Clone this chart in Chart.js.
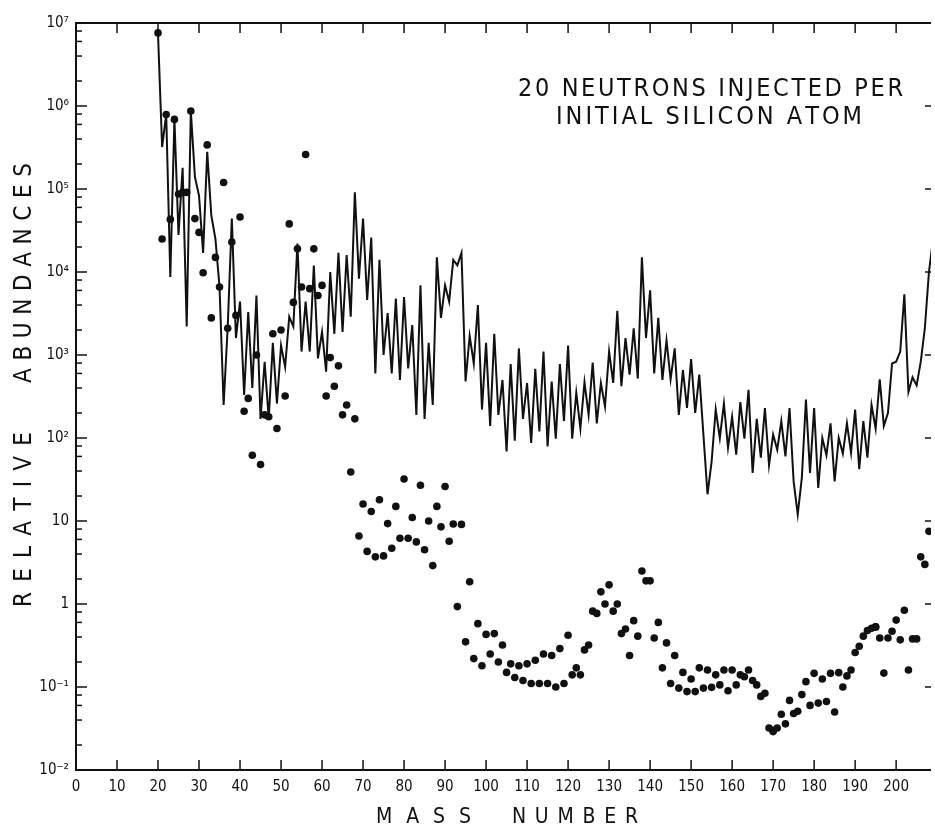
<!DOCTYPE html>
<html>
<head>
<meta charset="utf-8">
<script src="https://cdn.jsdelivr.net/npm/chart.js@4.4.0/dist/chart.umd.min.js"></script>
<style>
  html, body { margin: 0; padding: 0; background: #fff; }
  #wrap { width: 935px; height: 831px; position: relative; }
</style>
</head>
<body>
<div id="wrap"><canvas id="chart"></canvas></div>
<script>
'use strict';

// Solid curve: one value per mass number, starting at A = 20
const lineFirstMass = 20;
const lineAbund = [
  7.4e6, 3.2e5, 7.9e5, 8.7e3, 6.9e5, 2.8e4, 1.8e5, 2.2e3, 8.7e5, 1.4e5,   // 20-29
  8.3e4, 1.7e4, 2.8e5, 4.8e4, 2.5e4, 6.6e3, 2.5e2, 2.2e3, 4.4e4, 1.6e3,   // 30-39
  4.4e3, 3.3e2, 3.3e3, 4.0e2, 5.2e3, 1.7e2, 8.3e2, 1.7e2, 1.4e3, 2.6e2,   // 40-49
  1.3e3, 7.2e2, 2.9e3, 2.2e3, 2.2e4, 1.1e3, 4.4e3, 1.1e3, 1.2e4, 9.1e2,   // 50-59
  1.9e3, 6.3e2, 1.0e4, 1.8e3, 1.7e4, 1.9e3, 1.6e4, 2.9e3, 9.1e4, 8.3e3,   // 60-69
  4.4e4, 4.6e3, 2.6e4, 6.0e2, 1.4e4, 1.0e3, 3.2e3, 6.0e2, 4.8e3, 5.0e2,   // 70-79
  5.0e3, 6.9e2, 2.3e3, 1.9e2, 6.9e3, 1.7e2, 1.4e3, 2.5e2, 1.5e4, 2.8e3,   // 80-89
  6.9e3, 4.4e3, 1.4e4, 1.2e4, 1.7e4, 4.8e2, 1.7e3, 7.9e2, 4.0e3, 2.2e2,   // 90-99
  1.4e3, 1.4e2, 1.8e3, 1.9e2, 5.0e2, 69, 7.8e2, 93, 1.2e3, 1.7e2,         // 100-109
  4.6e2, 87, 6.8e2, 1.2e2, 1.1e3, 79, 4.8e2, 98, 7.8e2, 1.6e2,           // 110-119
  1.3e3, 98, 3.5e2, 1.3e2, 4.7e2, 1.9e2, 8.1e2, 1.5e2, 4.6e2, 2.4e2,     // 120-129
  1.1e3, 4.6e2, 3.4e3, 4.2e2, 1.6e3, 5.8e2, 2.1e3, 5.2e2, 1.5e4, 1.6e3,  // 130-139
  6.0e3, 6.0e2, 2.8e3, 5.0e2, 1.5e3, 5.1e2, 1.2e3, 1.9e2, 6.6e2, 2.3e2,  // 140-149
  8.9e2, 2.0e2, 5.8e2, 1.1e2, 21, 52, 2.2e2, 1.0e2, 2.6e2, 76,           // 150-159
  1.8e2, 63, 2.7e2, 98, 3.8e2, 38, 1.7e2, 58, 2.3e2, 47,                 // 160-169
  1.1e2, 72, 1.6e2, 60, 2.3e2, 30, 12, 33, 2.9e2, 38,                    // 170-179
  2.3e2, 25, 1.0e2, 62, 1.5e2, 30, 1.0e2, 65, 1.5e2, 66,                 // 180-189
  2.2e2, 42, 1.6e2, 58, 2.5e2, 1.3e2, 5.1e2, 1.4e2, 2.0e2, 7.9e2,        // 190-199
  8.3e2, 1.1e3, 5.4e3, 3.6e2, 5.4e2, 4.3e2, 8.3e2, 2.1e3, 1.0e4, 2.5e4   // 200-209
];

// Filled dots: mass number and abundance
const dotMass = [
  20, 21, 22, 23, 24, 25, 26, 27, 28, 29, 30, 31, 32, 33, 34, 35, 36, 37, 38, 39,
  40, 41, 42, 43, 44, 45, 46, 47, 48, 49, 50, 51, 52, 53, 54, 55, 56, 57, 58, 59,
  60, 61, 62, 63, 64, 65, 66, 67, 68, 69, 70, 71, 72, 73, 74, 75, 76, 77, 78, 79,
  80, 81, 82, 83, 84, 85, 86, 87, 88, 89, 90, 91, 92, 93, 94, 95, 96, 97, 98, 99,
  100, 101, 102, 103, 104, 105, 106, 107, 108, 109, 110, 111, 112, 113, 114, 115, 116, 117, 118, 119,
  120, 121, 122, 123, 124, 125, 126, 127, 128, 129, 130, 131, 132, 133, 134, 135, 136, 137, 138, 139,
  140, 141, 142, 143, 144, 145, 146, 147, 148, 149, 150, 151, 152, 153, 154, 155, 156, 157, 158, 159,
  160, 161, 162, 163, 164, 165, 166, 167, 168, 169, 170, 170, 171, 172, 173, 174, 175, 176, 177, 178,
  179, 180, 181, 182, 183, 184, 185, 186, 187, 188, 189, 190, 191, 192, 193, 194, 195, 195, 196, 197,
  198, 199, 200, 201, 202, 203, 204, 205, 206, 207, 208
];
const dotAbund = [
  7.6e6, 2.5e4, 7.9e5, 4.3e4, 6.9e5, 8.7e4, 9.1e4, 9.1e4, 8.7e5, 4.4e4, 3.0e4, 9.8e3, 3.4e5, 2.8e3, 1.5e4, 6.6e3, 1.2e5, 2.1e3, 2.3e4, 3.0e3,
  4.6e4, 2.1e2, 3.0e2, 62, 1.0e3, 48, 1.9e2, 1.8e2, 1.8e3, 1.3e2, 2.0e3, 3.2e2, 3.8e4, 4.3e3, 1.9e4, 6.6e3, 2.6e5, 6.3e3, 1.9e4, 5.2e3,
  6.9e3, 3.2e2, 9.3e2, 4.2e2, 7.4e2, 1.9e2, 2.5e2, 39, 1.7e2, 6.6, 16, 4.3, 13, 3.7, 18, 3.8, 9.3, 4.7, 15, 6.2,
  32, 6.2, 11, 5.6, 27, 4.5, 10, 2.9, 15, 8.5, 26, 5.7, 9.2, 0.93, 9.1, 0.35, 1.85, 0.22, 0.58, 0.18,
  0.43, 0.25, 0.44, 0.20, 0.32, 0.15, 0.19, 0.13, 0.18, 0.12, 0.19, 0.11, 0.21, 0.11, 0.25, 0.11, 0.24, 0.10, 0.29, 0.11,
  0.42, 0.14, 0.17, 0.14, 0.28, 0.32, 0.82, 0.77, 1.4, 1.0, 1.7, 0.82, 1.0, 0.44, 0.50, 0.24, 0.63, 0.41, 2.5, 1.9,
  1.9, 0.39, 0.60, 0.17, 0.34, 0.11, 0.24, 0.097, 0.15, 0.088, 0.125, 0.088, 0.17, 0.097, 0.16, 0.099, 0.14, 0.106, 0.16, 0.09,
  0.16, 0.106, 0.14, 0.133, 0.16, 0.12, 0.106, 0.077, 0.084, 0.032, 0.030, 0.029, 0.032, 0.047, 0.036, 0.069, 0.048, 0.051, 0.081, 0.116,
  0.060, 0.146, 0.064, 0.125, 0.067, 0.146, 0.050, 0.149, 0.10, 0.136, 0.16, 0.26, 0.31, 0.41, 0.48, 0.51, 0.53, 0.53, 0.39, 0.147,
  0.39, 0.47, 0.64, 0.37, 0.84, 0.16, 0.38, 0.38, 3.7, 3.0, 7.5
];

// Axis ticks
const xTickValues = [0, 10, 20, 30, 40, 50, 60, 70, 80, 90, 100, 110, 120, 130, 140, 150, 160, 170, 180, 190, 200];
const yTickValues = [1e-2, 1e-1, 1, 10, 1e2, 1e3, 1e4, 1e5, 1e6, 1e7];
const yTickLabels = ['10⁻²', '10⁻¹', '1', '10', '10²', '10³', '10⁴', '10⁵', '10⁶', '10⁷'];
const yMinorSteps = [2, 4, 6, 8];

const titleLines = ['20 NEUTRONS INJECTED PER', 'INITIAL SILICON ATOM'];
const xTitleWords = ['MASS', 'NUMBER'];
const yTitleWords = ['RELATIVE', 'ABUNDANCES'];

const FONT = "'DejaVu Sans Condensed', 'DejaVu Sans', sans-serif";
const INK = '#111';

const linePoints = lineAbund.map((v, i) => ({ x: lineFirstMass + i, y: v }));
const dotPoints = dotMass.map((m, i) => ({ x: m, y: dotAbund[i] }));

// draw a word stretched to a given width, letter by letter
function fitText(ctx, text, x0, y, width) {
  const chars = [...text];
  const w = chars.map(c => ctx.measureText(c).width);
  const sum = w.reduce((a, b) => a + b, 0);
  const gap = chars.length > 1 ? (width - sum) / (chars.length - 1) : 0;
  let x = x0;
  chars.forEach((c, i) => { ctx.fillText(c, x, y); x += w[i] + gap; });
}

const framePlugin = {
  id: 'frame',
  afterDraw(chart) {
    const { ctx, chartArea: a, scales: { x, y } } = chart;
    const seg = (x1, y1, x2, y2) => { ctx.beginPath(); ctx.moveTo(x1, y1); ctx.lineTo(x2, y2); ctx.stroke(); };
    ctx.save();
    ctx.strokeStyle = INK;
    ctx.lineWidth = 2;
    ctx.beginPath();
    ctx.moveTo(a.right, a.top);
    ctx.lineTo(a.left, a.top);
    ctx.lineTo(a.left, a.bottom);
    ctx.lineTo(a.right, a.bottom);
    ctx.stroke();

    ctx.lineWidth = 1.5;
    xTickValues.forEach(v => {
      if (v === 0) return;
      const px = x.getPixelForValue(v);
      seg(px, a.bottom, px, a.bottom - 10);
      seg(px, a.top, px, a.top + 10);
    });
    yTickValues.forEach((v, i) => {
      const py = y.getPixelForValue(v);
      seg(a.left, py, a.left + 11, py);
      seg(a.right, py, a.right - 6, py);
      if (i < yTickValues.length - 1) {
        yMinorSteps.forEach(k => {
          const pm = y.getPixelForValue(v * k);
          seg(a.left, pm, a.left + 6, pm);
        });
      }
    });

    // texts
    ctx.fillStyle = INK;
    ctx.textAlign = 'left';
    ctx.textBaseline = 'middle';
    ctx.font = `25px ${FONT}`;
    fitText(ctx, titleLines[0], 518, 89, 385);
    fitText(ctx, titleLines[1], 556, 117, 306);

    ctx.font = `21px ${FONT}`;
    fitText(ctx, xTitleWords[0], 376, 818, 95);
    fitText(ctx, xTitleWords[1], 512, 818, 126);

    ctx.save();
    ctx.translate(25, 607);
    ctx.rotate(-Math.PI / 2);
    ctx.font = `24px ${FONT}`;
    fitText(ctx, yTitleWords[0], 0, 0, 175);
    fitText(ctx, yTitleWords[1], 224, 0, 220);
    ctx.restore();
    ctx.restore();
  }
};

new Chart(document.getElementById('chart'), {
  type: 'scatter',
  data: {
    datasets: [
      {
        type: 'line',
        data: linePoints,
        borderColor: INK,
        borderWidth: 2,
        pointRadius: 0,
        tension: 0,
        fill: false
      },
      {
        data: dotPoints,
        pointRadius: 3.8,
        pointBackgroundColor: INK,
        pointBorderWidth: 0,
        backgroundColor: INK
      }
    ]
  },
  options: {
    responsive: true,
    maintainAspectRatio: false,
    animation: false,
    layout: { padding: { top: 23, left: 0, right: 0, bottom: 0 } },
    plugins: { legend: { display: false }, tooltip: { enabled: false } },
    scales: {
      x: {
        type: 'linear',
        min: 0,
        max: 208.5,
        afterFit: s => { s.height = 61; },
        grid: { display: false, drawTicks: false },
        border: { display: false },
        ticks: {
          stepSize: 10,
          includeBounds: false,
          autoSkip: false,
          maxRotation: 0,
          padding: 8,
          color: INK,
          font: { family: FONT, size: 15 },
          callback: v => (xTickValues.includes(v) ? String(v) : '')
        }
      },
      y: {
        type: 'logarithmic',
        min: 1e-2,
        max: 1e7,
        afterFit: s => { s.width = 76; },
        afterBuildTicks: s => { s.ticks = yTickValues.map(v => ({ value: v })); },
        grid: { display: false, drawTicks: false },
        border: { display: false },
        ticks: {
          autoSkip: false,
          padding: 7,
          color: INK,
          font: { family: FONT, size: 15 },
          callback: v => yTickLabels[Math.round(Math.log10(v)) + 2]
        }
      }
    }
  },
  plugins: [framePlugin]
});
</script>
</body>
</html>
